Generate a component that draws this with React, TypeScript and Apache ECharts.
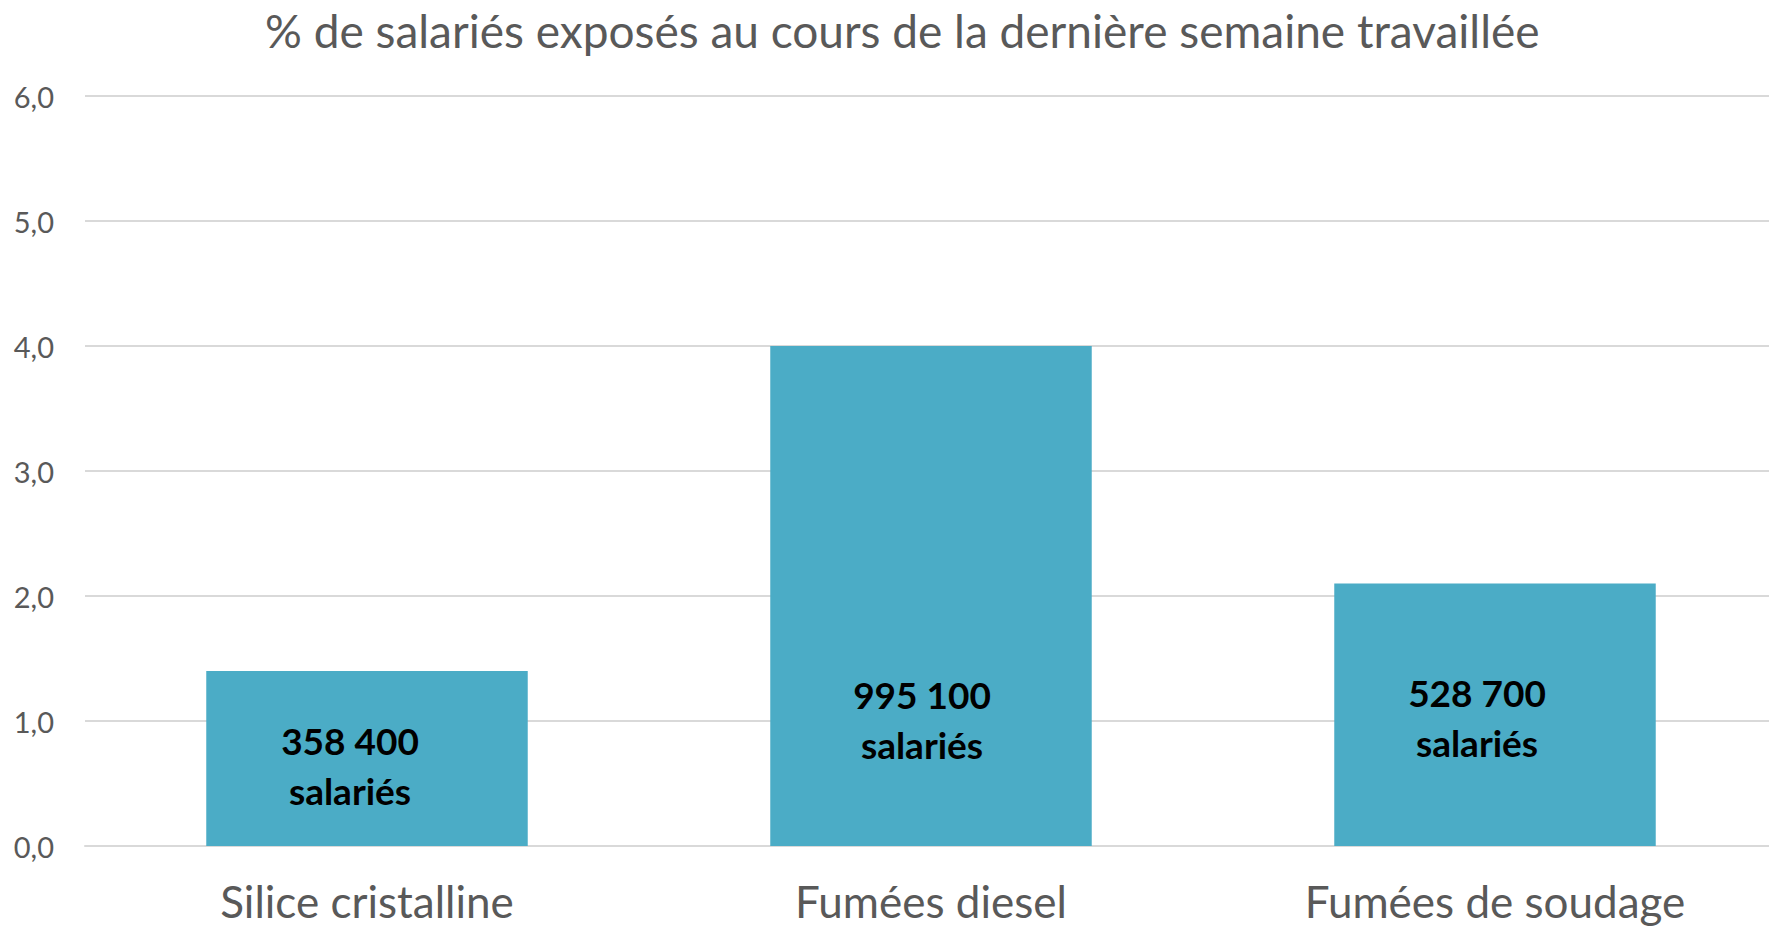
import React, { useEffect, useRef } from "react";
import * as echarts from "echarts";

const titleText = "% de salariés exposés au cours de la dernière semaine travaillée";
const categories = ["Silice cristalline", "Fumées diesel", "Fumées de soudage"];
const percentValues = [1.4, 4.0, 2.1];
const employeeLabels = ["358 400\nsalariés", "995 100\nsalariés", "528 700\nsalariés"];
const labelOffsets: [number, number][] = [[-17, 7], [-9, 123], [-18, 3]];

export default function App() {
  const ref = useRef<HTMLDivElement>(null);
  useEffect(() => {
    if (!ref.current) return;
    const chart = echarts.init(ref.current, undefined, { renderer: "svg" });
    const font = "Lato";
    chart.setOption({
      animation: false,
      backgroundColor: "#ffffff",
      title: {
        text: titleText,
        left: 260,
        top: 2,
        textStyle: { fontFamily: font, fontSize: 46, fontWeight: "normal", color: "#595959" },
      },
      grid: {
        left: 85,
        width: 1692,
        top: 96,
        bottom: 85,
        containLabel: false,
        outerBoundsMode: "none",
      },
      xAxis: {
        type: "category",
        data: categories,
        axisLine: { show: true, lineStyle: { color: "#D9D9D9", width: 2 } },
        axisTick: { show: false },
        axisLabel: { fontFamily: font, fontSize: 44, color: "#595959", margin: 33 },
      },
      yAxis: {
        type: "value",
        min: 0,
        max: 6,
        interval: 1,
        axisLine: { show: false },
        axisTick: { show: false },
        splitLine: { lineStyle: { color: "#D9D9D9", width: 2 } },
        axisLabel: {
          fontFamily: font,
          fontSize: 29,
          color: "#595959",
          margin: 31,
          formatter: (v: number) => v.toFixed(1).replace(".", ","),
        },
      },
      series: [
        {
          type: "bar",
          barCategoryGap: "43%",
          itemStyle: { color: "#4BACC6" },
          data: percentValues.map((v, i) => ({
            value: v,
            label: {
              show: true,
              position: "inside",
              offset: labelOffsets[i],
              formatter: employeeLabels[i],
              fontFamily: font,
              fontWeight: "bold",
              fontSize: 37,
              lineHeight: 50,
              color: "#000000",
              align: "center",
            },
          })),
        },
      ],
    });
    return () => chart.dispose();
  }, []);
  return (
    <div
      ref={ref}
      style={{ position: "fixed", left: 0, top: 0, width: 1769, height: 931 }}
    />
  );
}
